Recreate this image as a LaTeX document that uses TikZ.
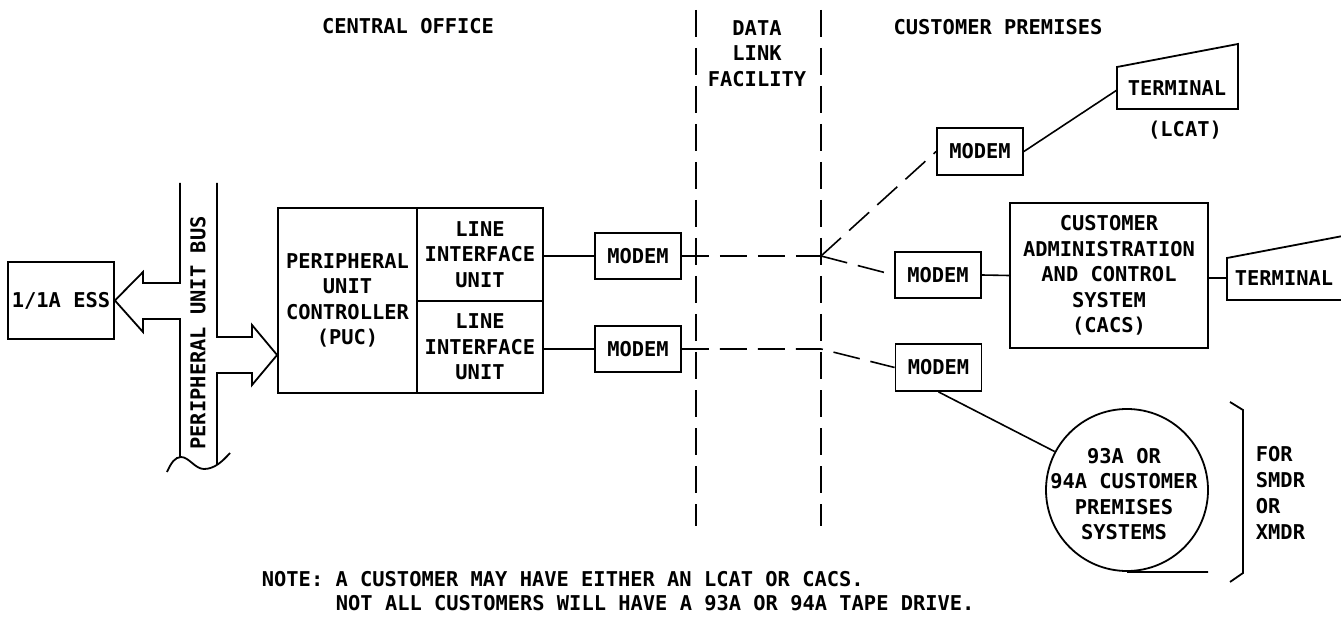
\documentclass[tikz,border=0pt]{standalone}
\usepackage{fontspec}
\newfontfamily\bellfont{DejaVu Sans Mono Bold}
\begin{document}
\begin{tikzpicture}[x=1pt,y=-1pt,
  line width=1.8pt,
  every node/.style={font=\bellfont\fontsize{20.4}{25.5}\selectfont, inner sep=0pt},
  box/.style={draw, align=center},
  modembox/.style={draw, minimum width=86pt, minimum height=46pt},
  link/.style={line width=1.6pt},
  datalink/.style={line width=1.6pt, dash pattern=on 27pt off 11pt},
  border/.style={line width=1.8pt, dash pattern=on 27pt off 11pt}]

\fill[white] (0,0) rectangle (1341,617);
\useasboundingbox (0,0) rectangle (1341,617);

% area headings
\node (co) at (408,26) {CENTRAL OFFICE};
\node[align=center] (dl) at (757,53.5) {DATA\\LINK\\FACILITY};
\node (cp) at (998,27) {CUSTOMER PREMISES};

% boundaries of the data link facility
\draw[border] (696,10) -- (696,526);
\draw[border] (821,10) -- (821,526);
\coordinate (j1) at (821,256);
\coordinate (j2) at (821,349);

% switching system and peripheral unit bus
\node[box, minimum width=106pt, minimum height=77pt] (ess) at (61,300.5) {1/1A ESS};
\node[box, minimum width=139pt, minimum height=185pt] (puc) at (347.5,300.5) {PERIPHERAL\\UNIT\\CONTROLLER\\(PUC)};
\node[box, minimum width=126pt, minimum height=93pt] (liu1) at (480,254.5) {LINE\\INTERFACE\\UNIT};
\node[box, minimum width=126pt, minimum height=92pt] (liu2) at (480,347) {LINE\\INTERFACE\\UNIT};

\coordinate (pucin) at (puc.west |- 0,355);
\draw (180,183) -- (180,283) -- (143,283) -- (143,272) -- (ess.east)
      -- (143,332) -- (143,319) -- (180,319) -- (180,457);
\draw (217,183) -- (217,337) -- (252,337) -- (252,325) -- (pucin)
      -- (252,385) -- (252,373) -- (217,373) -- (217,464.5);
\draw (167,472) .. controls (171,463) and (175,457) .. (181,457)
      .. controls (189,457) and (195,469) .. (204,469)
      .. controls (214,469) and (222,462) .. (230,453);
\node[rotate=90] (bus) at (198,333) {PERIPHERAL UNIT BUS};

% central office modems
\node[modembox] (m1) at (638,256) {MODEM};
\node[modembox] (m2) at (638,349) {MODEM};
\draw[link] (m1.west -| liu1.east) -- (m1.west);
\draw[link] (m2.west -| liu2.east) -- (m2.west);

% customer premises modems
\node[modembox, minimum height=47pt] (mt) at (980,151.5) {MODEM};
\node[modembox] (mm) at (938,275) {MODEM};
\node[modembox, minimum height=47pt] (mb) at (938.5,367.5) {MODEM};

% data links
\draw[datalink] (m1.east) -- (j1);
\draw[datalink] (j1) -- (mt.west);
\draw[datalink] (j1) -- (mm.west);
\draw[datalink] (m2.east) -- (j2) -- (mb.west);

% LCAT terminal
\coordinate (t1a) at (1117,109);
\coordinate (t1b) at (1117,67);
\coordinate (t1c) at (1238,44);
\coordinate (t1d) at (1238,109);
\coordinate (t1w) at (1117,90);
\draw (t1a) -- (t1b) -- (t1c) -- (t1d) -- cycle;
\node (term1) at (1177,88) {TERMINAL};
\node (lcat) at (1185,130) {(LCAT)};
\draw[link] (mt.east) -- (t1w);

% CACS and its terminal
\node[box, minimum width=198pt, minimum height=145pt] (cacs) at (1109,275.5)
  {CUSTOMER\\ADMINISTRATION\\AND CONTROL\\SYSTEM\\(CACS)};
\draw[link] (mm.east) -- (cacs.west);
\begin{scope}
  \clip (0,0) rectangle (1341,617);
  \draw (1227,300) -- (1227,258) -- (1348,235) -- (1348,300) -- cycle;
\end{scope}
\coordinate (t2w) at (1227,278);
\node (term2) at (1284,278) {TERMINAL};
\draw[link] (t2w -| cacs.east) -- (t2w);

% tape drive systems: reel outline, then its label
\node[draw, circle, minimum size=162pt] (tape) at (1127,490) {};
\node[align=center] (tapetext) at (1124,494) {93A OR\\94A CUSTOMER\\PREMISES\\SYSTEMS};
\coordinate (tapeend) at (1208,572);
\draw (tape.south) -- (tapeend);
\draw[link] (mb.south) -- (tape.152);

% bracket
\draw (1230,402) -- (1243,410) -- (1243,573) -- (1230,582);
\node[anchor=west, align=left, font=\bellfont\fontsize{20.4}{26}\selectfont] (usage) at (1255,493) {FOR\\SMDR\\OR\\XMDR};

% note
\node[anchor=base west] (note1) at (261,586.5) {NOTE: A CUSTOMER MAY HAVE EITHER AN LCAT OR CACS.};
\node[anchor=base west] (note2) at (335,610.5) {NOT ALL CUSTOMERS WILL HAVE A 93A OR 94A TAPE DRIVE.};
\end{tikzpicture}
\end{document}
